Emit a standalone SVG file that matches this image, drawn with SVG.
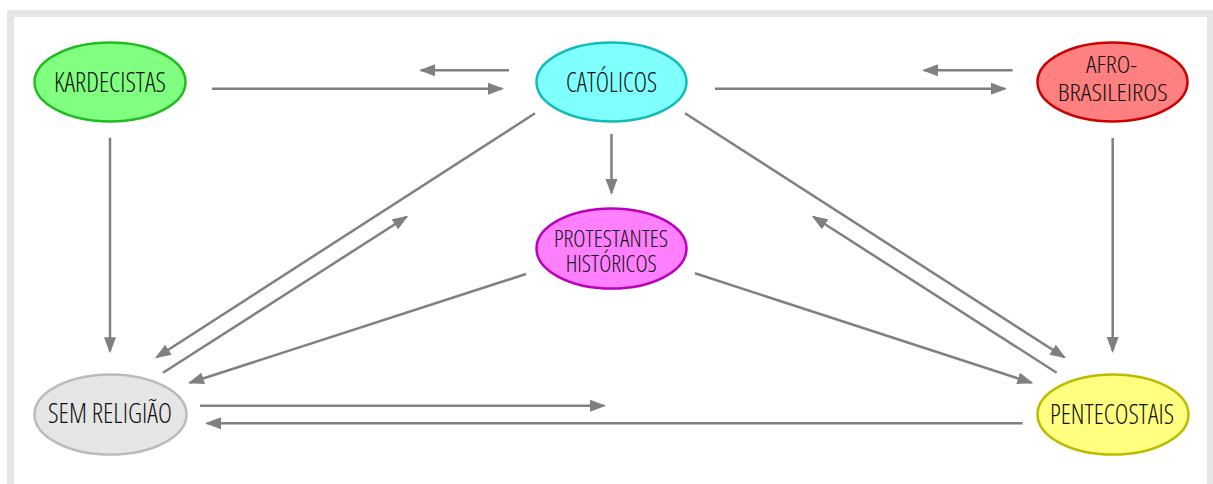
<svg xmlns="http://www.w3.org/2000/svg" width="1213" height="484" viewBox="0 0 1213 484">
<style>
.frame{fill:none;stroke:#e5e5e5;stroke-width:7}
.node ellipse{stroke-width:2.5}
.lbl{font-family:"Open Sans","Liberation Sans",sans-serif;font-stretch:condensed;font-weight:300;font-size:27px;fill:#111;text-anchor:middle}
.lbl2{font-size:24px}
.edge{stroke:#808080;stroke-width:2.5;fill:none;marker-end:url(#ah)}
</style>
<defs>
<marker id="ah" markerUnits="userSpaceOnUse" markerWidth="16" markerHeight="12" refX="14" refY="6" orient="auto" viewBox="0 0 16 12">
<path d="M0,0 L16,6 L0,12 z" fill="#808080"/>
</marker>
</defs>
<rect class="frame" x="10.5" y="13.5" width="1200" height="500"/>
<g id="connectors">
<line class="edge" x1="212" y1="88.7" x2="502" y2="88.7"/>
<line class="edge" x1="509" y1="70.3" x2="421" y2="70.3"/>
<line class="edge" x1="715" y1="88.7" x2="1005" y2="88.7"/>
<line class="edge" x1="1012.7" y1="70.3" x2="924" y2="70.3"/>
<line class="edge" x1="110" y1="137.7" x2="110" y2="351.3"/>
<line class="edge" x1="1112.7" y1="138" x2="1112.7" y2="351"/>
<line class="edge" x1="611.5" y1="134" x2="611.5" y2="193"/>
<line class="edge" x1="535" y1="113.3" x2="156.7" y2="357.2"/>
<line class="edge" x1="163" y1="372.7" x2="406.6" y2="216.8"/>
<line class="edge" x1="526" y1="274" x2="189.9" y2="382.7"/>
<line class="edge" x1="685" y1="113.3" x2="1064.3" y2="357.2"/>
<line class="edge" x1="1056.7" y1="372.7" x2="813.4" y2="216.8"/>
<line class="edge" x1="695" y1="273.3" x2="1031.4" y2="382.7"/>
<line class="edge" x1="200" y1="405.7" x2="604" y2="405.7"/>
<line class="edge" x1="1022.7" y1="423.3" x2="207" y2="423.3"/>
</g>
<g id="kardecistas" class="node">
<ellipse cx="110" cy="82" rx="75.5" ry="39.5" fill="#80ff80" stroke="#22bb22"/>
<text class="lbl" x="110" y="91.7" textLength="112" lengthAdjust="spacingAndGlyphs">KARDECISTAS</text>
</g>
<g id="catolicos" class="node">
<ellipse cx="611.5" cy="82" rx="75" ry="39.5" fill="#80ffff" stroke="#11bbbb"/>
<text class="lbl" x="611.5" y="91.7" textLength="91" lengthAdjust="spacingAndGlyphs">CATÓLICOS</text>
</g>
<g id="afro-brasileiros" class="node">
<ellipse cx="1112.5" cy="82" rx="75" ry="39.5" fill="#ff8080" stroke="#cc0000"/>
<text class="lbl lbl2" x="1111.5" y="73.3" textLength="51" lengthAdjust="spacingAndGlyphs">AFRO-</text>
<text class="lbl lbl2" x="1112.7" y="100.7" textLength="110" lengthAdjust="spacingAndGlyphs">BRASILEIROS</text>
</g>
<g id="protestantes" class="node">
<ellipse cx="611.5" cy="248.5" rx="75" ry="40" fill="#ff80ff" stroke="#bb00bb"/>
<text class="lbl lbl2" x="611" y="246.7" textLength="114" lengthAdjust="spacingAndGlyphs">PROTESTANTES</text>
<text class="lbl lbl2" x="611.2" y="271.7" textLength="91" lengthAdjust="spacingAndGlyphs">HISTÓRICOS</text>
</g>
<g id="sem-religiao" class="node">
<ellipse cx="110.5" cy="414.5" rx="76" ry="40" fill="#e5e5e5" stroke="#bbbbbb"/>
<text class="lbl" x="110" y="423.3" textLength="124" lengthAdjust="spacingAndGlyphs">SEM RELIGIÃO</text>
</g>
<g id="pentecostais" class="node">
<ellipse cx="1113" cy="414.5" rx="75.5" ry="40" fill="#ffff80" stroke="#bbbb00"/>
<text class="lbl" x="1112" y="424" textLength="124" lengthAdjust="spacingAndGlyphs">PENTECOSTAIS</text>
</g>
</svg>
